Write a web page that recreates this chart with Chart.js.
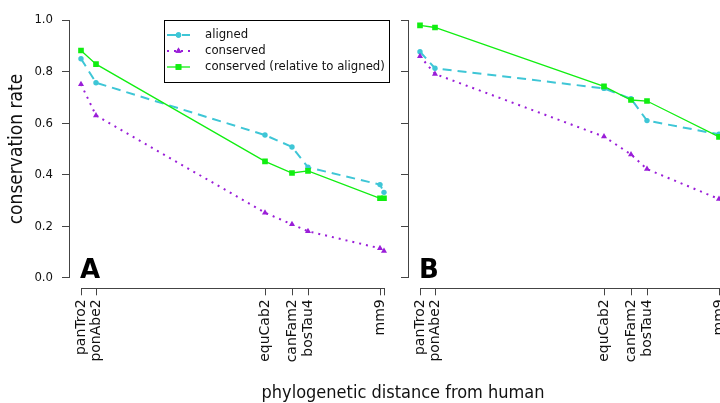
<!DOCTYPE html>
<html>
<head>
<meta charset="utf-8">
<script src="https://cdn.jsdelivr.net/npm/chart.js@4.4.1/dist/chart.umd.min.js"></script>
<style>
  html, body { margin: 0; padding: 0; background: #fff; }
  #wrap { position: relative; width: 720px; height: 403px; overflow: hidden; }
  #panelA { position: absolute; left: 0; top: 0; }
  #panelB { position: absolute; left: 339px; top: 0; }
  #xtitle {
    position: absolute; left: 403px; top: 382px; transform: translateX(-50%);
    font: 18px 'DejaVu Sans Condensed', 'DejaVu Sans', sans-serif;
    white-space: nowrap; color: #111; line-height: 20px;
  }
</style>
</head>
<body>
<div id="wrap">
  <canvas id="panelA" width="400" height="403"></canvas>
  <canvas id="panelB" width="400" height="403"></canvas>
  <div id="xtitle">phylogenetic distance from human</div>
</div>
<script>
const species = ['panTro2', 'ponAbe2', 'equCab2', 'canFam2', 'bosTau4', 'mm9', 'rn4'];
const distance = [0, 15, 184, 211, 227, 299, 303];
const yTicks = [0, 0.2, 0.4, 0.6, 0.8, 1.0];
const seriesNames = ['aligned', 'conserved', 'conserved (relative to aligned)'];

// panel A
const alignedA = [0.85, 0.757, 0.554, 0.508, 0.429, 0.362, 0.332];
const conservedA = [0.751, 0.63, 0.253, 0.208, 0.181, 0.115, 0.105];
const relativeA = [0.882, 0.829, 0.452, 0.407, 0.415, 0.309, 0.309];

// panel B
const alignedB = [0.877, 0.813, 0.735, 0.695, 0.61, 0.557, 0.55];
const conservedB = [0.86, 0.791, 0.548, 0.479, 0.422, 0.306, 0.30];
const relativeB = [0.979, 0.971, 0.743, 0.69, 0.686, 0.547, 0.545];

const FONT = "'DejaVu Sans Condensed', 'DejaVu Sans', sans-serif";
const AXIS = '#444';

const styles = [
  { color: '#3ec6d6', dash: [9, 6], width: 2, point: 'circle', radius: 2.7 },
  { color: '#9a1ed8', dash: [2, 5], width: 2, point: 'triangle', radius: 3.5 },
  { color: '#11ee11', dash: [], width: 1.3, point: 'rect', radius: 4 }
];

const makeDatasets = (series) => series.map((vals, k) => ({
  label: seriesNames[k],
  data: distance.map((d, i) => ({ x: d, y: vals[i] })),
  borderColor: styles[k].color,
  backgroundColor: styles[k].color,
  borderWidth: styles[k].width,
  borderDash: styles[k].dash,
  pointStyle: styles[k].point,
  pointRadius: styles[k].radius,
  pointBorderWidth: 0,
  tension: 0,
  order: 2 - k
}));

// R style axis lines: only from first to last tick
const axisLines = {
  id: 'axisLines',
  afterDraw(chart) {
    const { ctx, chartArea, scales } = chart;
    const yb = Math.round(chartArea.bottom) + 0.5;
    const xl = Math.round(chartArea.left) + 0.5;
    ctx.save();
    ctx.strokeStyle = AXIS;
    ctx.lineWidth = 1;
    ctx.beginPath();
    ctx.moveTo(scales.x.getPixelForValue(distance[0]), yb);
    ctx.lineTo(scales.x.getPixelForValue(distance[distance.length - 1]), yb);
    ctx.moveTo(xl, scales.y.getPixelForValue(yTicks[0]));
    ctx.lineTo(xl, scales.y.getPixelForValue(yTicks[yTicks.length - 1]));
    ctx.stroke();
    ctx.restore();
  }
};

const panelLabel = {
  id: 'panelLabel',
  afterDraw(chart, args, opts) {
    const { ctx, chartArea, scales } = chart;
    ctx.save();
    ctx.font = "bold 26px 'DejaVu Sans', sans-serif";
    ctx.fillStyle = '#000';
    ctx.textBaseline = 'alphabetic';
    ctx.fillText(opts.text, chartArea.left + 11, scales.y.getPixelForValue(0));
    ctx.restore();
  }
};

const boxLegend = {
  id: 'boxLegend',
  afterDraw(chart) {
    const { ctx } = chart;
    ctx.save();
    ctx.fillStyle = '#fff';
    ctx.fillRect(164.5, 20.5, 225, 62);
    ctx.strokeStyle = '#000';
    ctx.lineWidth = 1;
    ctx.strokeRect(164.5, 20.5, 225, 62);
    chart.data.datasets.forEach((ds, k) => {
      const y = 35 + k * 16;
      ctx.strokeStyle = ds.borderColor;
      ctx.lineWidth = ds.borderWidth;
      ctx.setLineDash(ds.borderDash);
      ctx.beginPath();
      ctx.moveTo(167, y);
      ctx.lineTo(190, y);
      ctx.stroke();
      ctx.setLineDash([]);
      ctx.fillStyle = ds.backgroundColor;
      Chart.helpers.drawPoint(ctx, { pointStyle: ds.pointStyle, radius: ds.pointRadius, rotation: 0, borderWidth: 0 }, 178.5, y);
      ctx.fill();
      ctx.fillStyle = '#111';
      ctx.font = '13px ' + FONT;
      ctx.textBaseline = 'middle';
      ctx.fillText(ds.label, 205, y);
    });
    ctx.restore();
  }
};

function makePanel(id, series, letter, showY) {
  const extra = showY ? [boxLegend] : [];
  return new Chart(document.getElementById(id), {
    type: 'line',
    data: { datasets: makeDatasets(series) },
    options: {
      responsive: false,
      animation: false,
      layout: { padding: { top: 9.7, right: 4, left: 0, bottom: 0 } },
      plugins: {
        legend: { display: false },
        tooltip: { enabled: false },
        panelLabel: { text: letter }
      },
      scales: {
        x: {
          type: 'linear',
          min: -12,
          max: 315,
          afterBuildTicks: (s) => { s.ticks = distance.map(v => ({ value: v })); },
          afterFit: (s) => { s.height = 114.7; s.paddingLeft = 0; s.paddingRight = 0; },
          border: { display: false },
          grid: { drawOnChartArea: false, drawTicks: true, tickLength: 7, color: AXIS },
          ticks: {
            autoSkip: false,
            minRotation: 90,
            maxRotation: 90,
            padding: 4,
            color: '#111',
            font: { family: "'DejaVu Sans', sans-serif", size: 14 },
            callback: (v) => {
              const i = distance.indexOf(v);
              // labels too close to the previous one are dropped, like R does
              if (i > 0 && v - distance[i - 1] < 8) return '';
              return species[i];
            }
          }
        },
        y: {
          min: -0.04,
          max: 1.04,
          afterBuildTicks: (s) => { s.ticks = yTicks.map(v => ({ value: v })); },
          afterFit: (s) => { s.width = 69; s.paddingTop = 0; s.paddingBottom = 0; },
          border: { display: false },
          grid: { drawOnChartArea: false, drawTicks: true, tickLength: 7, color: AXIS },
          ticks: {
            padding: 9,
            color: '#111',
            font: { family: FONT, size: 13 },
            callback: (v) => showY ? v.toFixed(1) : ''
          },
          title: {
            display: showY,
            text: 'conservation rate',
            color: '#111',
            font: { family: FONT, size: 19 },
            padding: { top: 6, bottom: 0 }
          }
        }
      }
    },
    plugins: [axisLines, panelLabel, ...extra]
  });
}

makePanel('panelA', [alignedA, conservedA, relativeA], 'A', true);
makePanel('panelB', [alignedB, conservedB, relativeB], 'B', false);
</script>
</body>
</html>
